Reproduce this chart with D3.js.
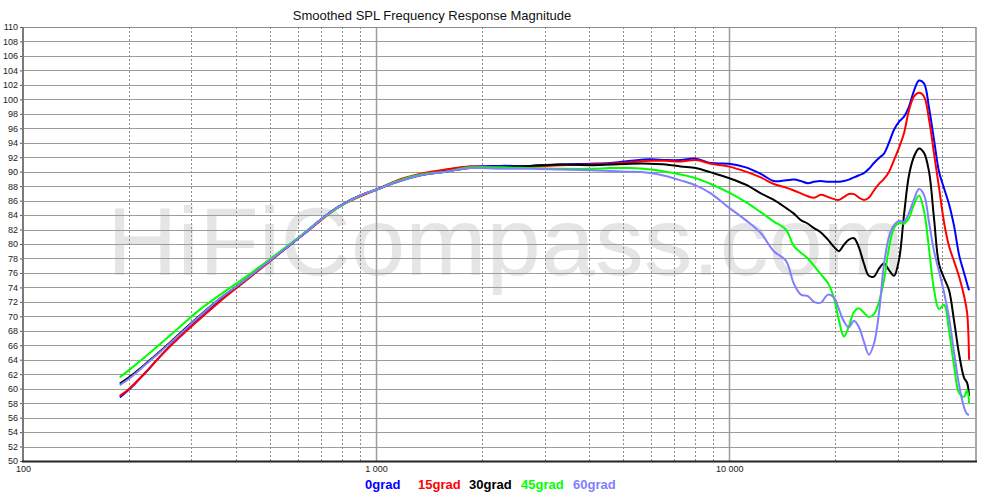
<!DOCTYPE html>
<html><head><meta charset="utf-8">
<script src="https://cdn.jsdelivr.net/npm/d3@7"></script>
<style>
body{margin:0;background:#fff}
svg{display:block}
text{font-family:"Liberation Sans",Arial,sans-serif}
</style>
</head><body>
<svg id="c" width="1000" height="498"></svg>
<script>
// ---- data ----
const freqs = [188,200,222,245,279,318,362,412,500,610,695,752,818,903,1000,
  1134,1336,1573,1851,2251,2738,3331,4052,4617,5260,5995,6611,7292,
  8040,8867,10000,11145,12290,13380,14470,15250,15960,16710,17380,18180,19040,19800,
  20450,21130,21830,22560,23310,24070,24870,25700,26560,27440,28350,29290,30260,31260,
  32300,33380,34480,35620,36810,38030,39290,40590,41940,43330,44770,46260,47180,47790];

const grad0 = [58.8,59.9,62.2,64.5,67.3,69.9,72.3,74.4,77.7,81.0,83.3,84.6,85.7,86.7,87.5,
  88.6,89.6,90.2,90.7,90.8,90.8,91.0,91.1,91.2,91.5,91.7,91.6,91.6,
  91.8,91.2,91.1,90.6,89.7,88.7,88.8,88.9,88.7,88.4,88.6,88.7,88.6,88.6,
  88.6,88.7,88.9,89.2,89.5,89.8,90.4,91.2,91.9,92.5,94.0,95.8,96.9,97.6,
  99.0,101.2,102.6,102.2,98.8,94.4,90.0,87.7,85.5,82.5,78.5,76.0,74.5,73.6];

const grad15 = [59.0,60.0,62.2,64.5,67.2,69.7,72.1,74.3,77.6,81.0,83.2,84.5,85.6,86.6,87.5,
  88.7,89.7,90.3,90.7,90.6,90.7,90.9,91.0,91.1,91.3,91.5,91.5,91.4,
  91.6,91.1,90.7,90.0,89.2,88.3,87.8,87.4,87.0,86.6,86.4,86.8,86.5,86.2,
  86.1,86.5,86.9,86.9,86.4,86.1,86.4,87.4,88.3,89.0,90.0,91.6,93.3,95.3,
  98.5,100.4,100.9,100.4,97.2,92.5,87.8,83.0,79.7,77.6,75.5,72.8,70.5,64.0];

const grad30 = [60.7,61.6,63.4,65.2,67.7,70.2,72.5,74.5,77.7,81.0,83.3,84.6,85.7,86.7,87.5,
  88.5,89.5,90.0,90.5,90.6,90.8,91.0,90.9,91.0,91.1,91.1,91.0,90.7,
  90.5,89.9,89.1,88.2,87.0,86.1,85.0,84.2,83.3,82.8,82.2,81.6,80.6,79.6,
  79.0,79.9,80.6,80.8,79.5,77.3,75.6,75.5,76.6,77.3,76.4,75.6,77.8,84.0,
  89.5,92.1,93.2,92.6,90.0,83.5,77.2,75.3,73.6,69.4,64.8,61.5,60.8,59.0];

const grad45 = [61.6,62.6,64.4,66.2,68.6,71.0,73.0,74.9,77.9,81.1,83.3,84.5,85.6,86.7,87.5,
  88.6,89.6,90.0,90.6,90.6,90.5,90.4,90.4,90.5,90.5,90.3,90.0,89.6,
  89.1,88.3,87.1,85.8,84.4,83.1,82.0,79.7,78.8,78.0,77.0,75.8,74.6,72.5,
  69.5,67.2,68.6,70.6,71.1,70.5,69.9,70.3,72.0,75.0,79.5,82.2,82.9,82.8,
  83.6,85.5,86.7,84.6,79.3,73.7,71.0,71.6,68.0,63.2,59.4,58.9,59.8,58.0];

const grad60 = [60.5,61.4,63.3,65.1,67.6,70.1,72.5,74.5,77.7,81.0,83.3,84.6,85.7,86.7,87.5,
  88.5,89.5,90.0,90.5,90.4,90.4,90.3,90.2,90.1,90.0,89.8,89.4,88.8,
  88.1,87.0,85.0,83.3,81.5,79.0,77.7,74.5,73.0,72.8,72.0,71.9,73.0,72.6,
  71.0,69.3,68.5,69.4,68.5,66.5,64.7,66.2,70.5,77.2,81.0,82.6,83.2,83.1,
  84.3,86.2,87.6,86.8,83.0,79.0,76.2,73.3,69.8,65.0,60.5,57.4,56.5,56.4];

const seriesNames = ["0grad","15grad","30grad","45grad","60grad"];
const seriesColors = ["#0000ff","#ff0000","#000000","#00ff00","#8080ff"];
const seriesValues = [grad0, grad15, grad30, grad45, grad60];

const yTicks = d3.range(50, 111, 2);
const xMajor = [100, 1000, 10000];
const xMajorLabels = ["100", "1 000", "10 000"];
const xMinor = [200,300,400,500,600,700,800,900,2000,3000,4000,5000,6000,7000,8000,9000,20000,30000,40000];
const titleText = "Smoothed SPL Frequency Response Magnitude";
const watermark = "HiFiCompass.com";

// ---- layout ----
const L = 23, R = 976, T = 27, B = 461;
const svg = d3.select("#c");
const x = d3.scaleLog().domain([100, 50000]).range([L, R]);
const y = d3.scaleLinear().domain([50, 110]).range([B, T]);

// watermark
svg.append("text").attr("x", 107).attr("y", 275)
  .attr("font-size", 97).attr("fill", "#e5e5e5")
  .attr("textLength", 797).attr("lengthAdjust", "spacingAndGlyphs")
  .text(watermark);

// horizontal grid
svg.append("g").selectAll("line").data(yTicks).join("line")
  .attr("x1", L).attr("x2", R)
  .attr("y1", d => Math.round(y(d)) + 0.5).attr("y2", d => Math.round(y(d)) + 0.5)
  .attr("stroke", "#9c9c9c").attr("stroke-width", 1);

// vertical minor grid (dashed)
svg.append("g").selectAll("line").data(xMinor).join("line")
  .attr("x1", d => Math.round(x(d)) + 0.5).attr("x2", d => Math.round(x(d)) + 0.5)
  .attr("y1", T).attr("y2", B)
  .attr("stroke", "#8c8c8c").attr("stroke-width", 1).attr("stroke-dasharray", "2,2");

// vertical major grid
svg.append("g").selectAll("line").data(xMajor.slice(1)).join("line")
  .attr("x1", d => Math.round(x(d)) + 0.5).attr("x2", d => Math.round(x(d)) + 0.5)
  .attr("y1", T).attr("y2", B)
  .attr("stroke", "#9c9c9c").attr("stroke-width", 1.5);

// frame
svg.append("line").attr("x1", R).attr("x2", R).attr("y1", T).attr("y2", B)
  .attr("stroke", "#a8a8a8").attr("stroke-width", 2);
svg.append("line").attr("x1", L).attr("x2", R).attr("y1", T + 0.5).attr("y2", T + 0.5)
  .attr("stroke", "#8c8c8c").attr("stroke-width", 1.2);

// curves
const line = d3.line()
  .x((d, i) => x(freqs[i]))
  .y(d => y(d))
  .curve(d3.curveCatmullRom.alpha(0.5));

svg.append("g").selectAll("path").data(seriesValues).join("path")
  .attr("d", d => line(d))
  .attr("fill", "none")
  .attr("stroke", (d, i) => seriesColors[i])
  .attr("stroke-width", 2)
  .attr("stroke-linejoin", "round");

// axes
const yAxis = svg.append("g").attr("transform", `translate(${L},0)`)
  .call(d3.axisLeft(y).tickValues(yTicks).tickSize(3).tickPadding(2).tickFormat(d3.format("d")));
yAxis.select(".domain").remove();
yAxis.selectAll("line").attr("stroke", "#555");
yAxis.selectAll("text").attr("font-size", 9).attr("fill", "#222")
  .attr("font-family", '"Liberation Sans",Arial,sans-serif');

svg.append("line").attr("x1", L).attr("x2", L).attr("y1", T).attr("y2", B + 1)
  .attr("stroke", "#7a7a7a").attr("stroke-width", 2);

const xAxis = svg.append("g").attr("transform", `translate(0,${B})`)
  .call(d3.axisBottom(x).tickValues(xMajor).tickSize(0).tickPadding(5)
    .tickFormat((d, i) => xMajorLabels[i]));
xAxis.select(".domain").remove();
xAxis.selectAll("text").attr("font-size", 9).attr("fill", "#222")
  .attr("font-family", '"Liberation Sans",Arial,sans-serif');

svg.append("line").attr("x1", L - 1).attr("x2", R + 1).attr("y1", B + 0.5).attr("y2", B + 0.5)
  .attr("stroke", "#222").attr("stroke-width", 2);

// title
svg.append("text").attr("x", 432).attr("y", 20).attr("text-anchor", "middle")
  .attr("font-size", 13).attr("fill", "#111").text(titleText);

// legend
const legendX = [365, 418, 469, 521, 573];
svg.append("g").selectAll("text").data(seriesNames).join("text")
  .attr("x", (d, i) => legendX[i]).attr("y", 489)
  .attr("font-size", 13).attr("font-weight", "bold")
  .attr("fill", (d, i) => seriesColors[i])
  .text(d => d);
</script>
</body></html>
